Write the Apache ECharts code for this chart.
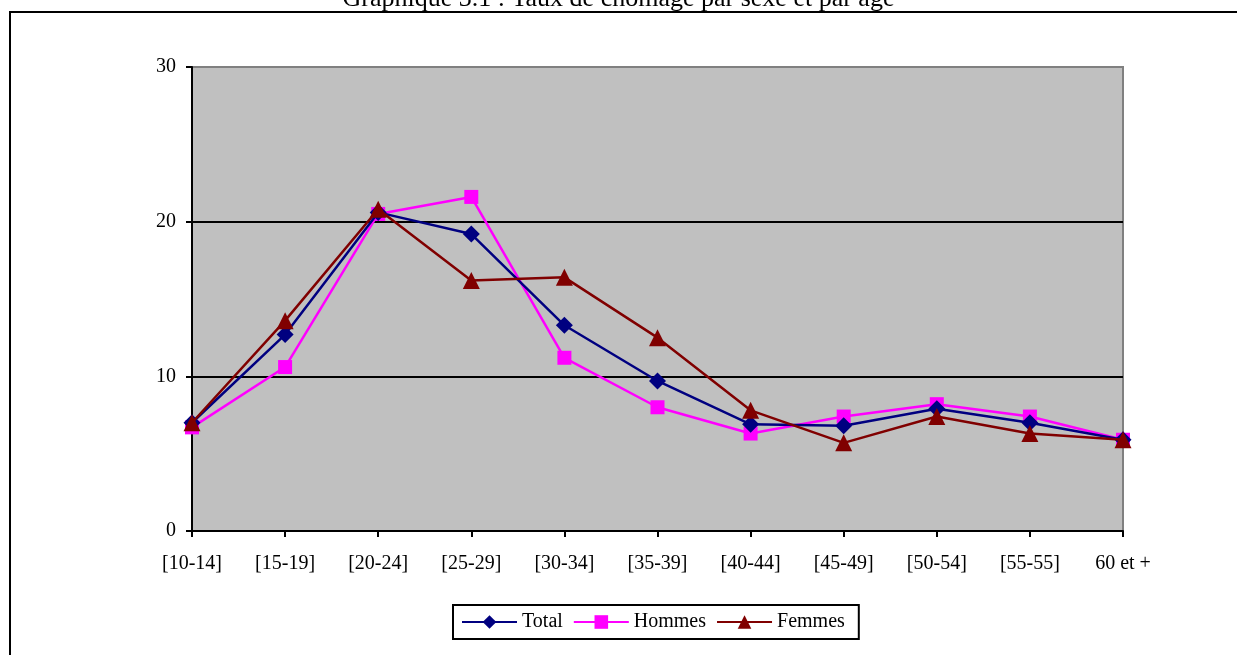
<!DOCTYPE html>
<html>
<head>
<meta charset="utf-8">
<script src="https://cdn.jsdelivr.net/npm/echarts@6/dist/echarts.min.js"></script>
<style>
  html, body { margin: 0; padding: 0; background: #fff; }
  #chart { width: 1237px; height: 655px; }
</style>
</head>
<body>
<div id="chart"></div>
<script>
// Taux de chômage par tranche d'âge (%)
const categories = ['[10-14]', '[15-19]', '[20-24]', '[25-29]', '[30-34]', '[35-39]', '[40-44]', '[45-49]', '[50-54]', '[55-55]', '60 et +'];
const total   = [7.0, 12.7, 20.6, 19.2, 13.3, 9.7, 6.9, 6.8, 7.9, 7.0, 5.9];
const hommes  = [6.7, 10.6, 20.5, 21.6, 11.2, 8.0, 6.3, 7.4, 8.2, 7.4, 5.9];
const femmes  = [7.0, 13.6, 20.8, 16.2, 16.4, 12.5, 7.8, 5.7, 7.4, 6.3, 5.9];
const yTicks  = { min: 0, max: 30, interval: 10 };

const serif = 'Liberation Serif, Times New Roman, serif';
const chart = echarts.init(document.getElementById('chart'), null, { renderer: 'canvas' });

chart.setOption({
  animation: false,
  backgroundColor: '#fff',
  title: {
    text: 'Graphique 3.1 : Taux de chômage par sexe et par âge',
    left: 'center',
    top: -14,
    padding: 0,
    textStyle: { fontFamily: serif, fontSize: 26, fontWeight: 'normal', color: '#000' }
  },
  graphic: [{
    type: 'rect',
    shape: { x: 10, y: 12, width: 1240, height: 660 },
    style: { fill: 'none', stroke: '#000', lineWidth: 2 },
    z: -1
  }],
  grid: {
    left: 192, right: 1237 - 1123, top: 67, bottom: 655 - 531,
    show: true,
    backgroundColor: '#c0c0c0',
    borderColor: '#808080',
    borderWidth: 2
  },
  legend: {
    bottom: 16,
    left: 453,
    orient: 'horizontal',
    itemWidth: 55,
    itemHeight: 17,
    itemGap: 10,
    padding: [7, 14, 7, 8],
    borderColor: '#000',
    borderWidth: 2,
    backgroundColor: '#fff',
    textStyle: { fontFamily: serif, fontSize: 20, color: '#000' },
    data: ['Total', 'Hommes', 'Femmes']
  },
  xAxis: {
    type: 'category',
    data: categories,
    boundaryGap: false,
    axisLine: { lineStyle: { color: '#000', width: 2 } },
    axisTick: { show: true, length: 6, alignWithLabel: true, lineStyle: { color: '#000', width: 2 } },
    axisLabel: { fontFamily: serif, fontSize: 20, color: '#000', margin: 23 },
    splitLine: { show: false }
  },
  yAxis: {
    type: 'value',
    min: yTicks.min, max: yTicks.max, interval: yTicks.interval,
    axisLine: { show: true, lineStyle: { color: '#000', width: 2 } },
    axisTick: { show: true, length: 6, lineStyle: { color: '#000', width: 2 } },
    axisLabel: { fontFamily: serif, fontSize: 20, color: '#000', margin: 16 },
    splitLine: { show: true, lineStyle: { color: ['#000', '#000', '#000', '#808080'], width: 2 } }
  },
  series: [
    {
      name: 'Total', type: 'line', data: total,
      symbol: 'diamond', symbolSize: 17,
      lineStyle: { color: '#000080', width: 2.5 },
      itemStyle: { color: '#000080' },
      z: 3
    },
    {
      name: 'Hommes', type: 'line', data: hommes,
      symbol: 'rect', symbolSize: 14,
      lineStyle: { color: '#ff00ff', width: 2.5 },
      itemStyle: { color: '#ff00ff' },
      z: 2
    },
    {
      name: 'Femmes', type: 'line', data: femmes,
      symbol: 'triangle', symbolSize: 17,
      lineStyle: { color: '#800000', width: 2.5 },
      itemStyle: { color: '#800000' },
      z: 4
    }
  ]
});
</script>
</body>
</html>
